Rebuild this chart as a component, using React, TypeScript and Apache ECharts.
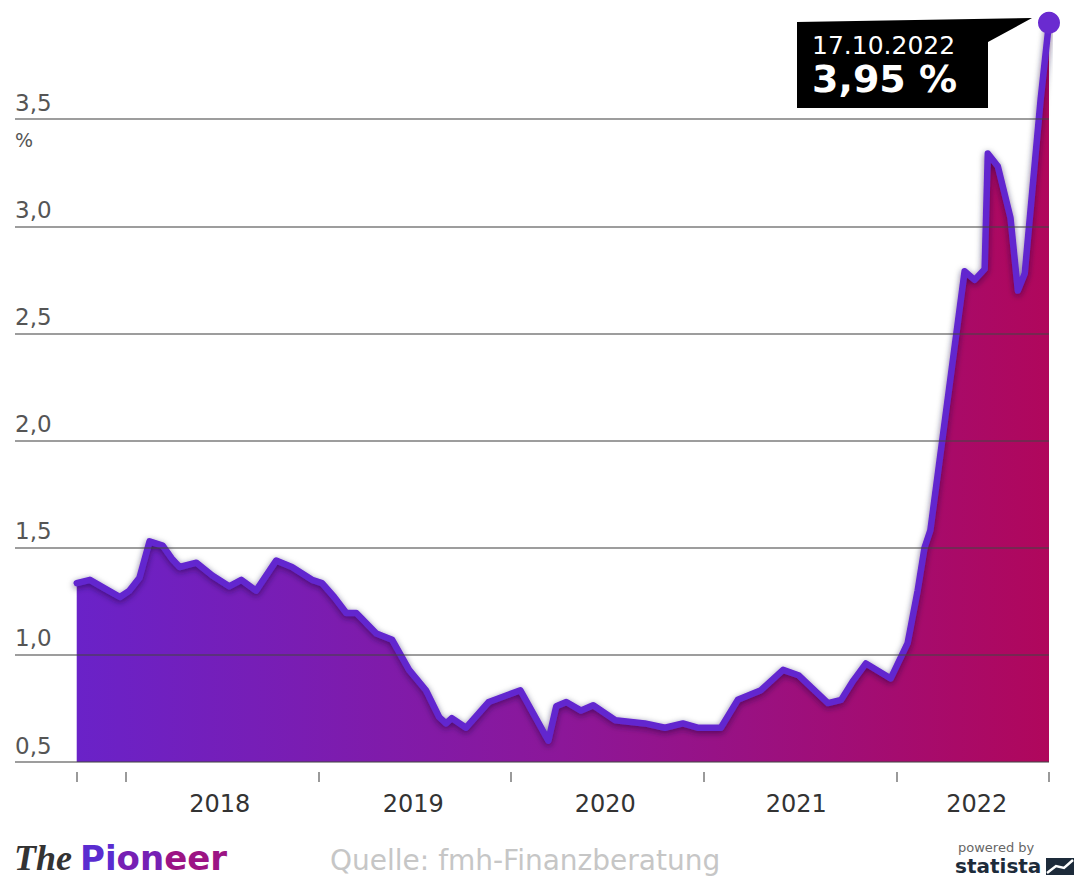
import React, { useEffect, useRef } from "react";
import * as echarts from "echarts";

// Bauzins 10 Jahre (fmh)
const dates: string[] = [
  "2017-09-30", "2017-10-25", "2017-11-22", "2017-12-21", "2018-01-08", "2018-01-27",
  "2018-02-15", "2018-03-12", "2018-03-29", "2018-04-13", "2018-05-15", "2018-06-14",
  "2018-07-16", "2018-08-08", "2018-09-05", "2018-10-13", "2018-11-12", "2018-12-20",
  "2019-01-08", "2019-01-31", "2019-02-23", "2019-03-14", "2019-04-21", "2019-05-21",
  "2019-06-22", "2019-07-24", "2019-08-18", "2019-08-31", "2019-09-11", "2019-10-08",
  "2019-11-20", "2020-01-19", "2020-03-12", "2020-03-27", "2020-04-15", "2020-05-13",
  "2020-06-05", "2020-07-17", "2020-09-11", "2020-10-19", "2020-11-22", "2020-12-20",
  "2021-02-02", "2021-03-06", "2021-04-19", "2021-05-31", "2021-06-29", "2021-08-24",
  "2021-09-18", "2021-10-11", "2021-11-04", "2021-12-21", "2022-01-22", "2022-02-10",
  "2022-02-23", "2022-03-06", "2022-05-10", "2022-05-29", "2022-06-17", "2022-06-23",
  "2022-07-12", "2022-08-05", "2022-08-19", "2022-09-01", "2022-10-01", "2022-10-17",
];
const rates: number[] = [
  1.335, 1.35, 1.31, 1.27, 1.30, 1.36,
  1.53, 1.51, 1.45, 1.41, 1.43, 1.37,
  1.32, 1.35, 1.30, 1.44, 1.41, 1.35,
  1.335, 1.27, 1.195, 1.195, 1.10, 1.07,
  0.93, 0.835, 0.71, 0.68, 0.705, 0.66,
  0.78, 0.835, 0.60, 0.76, 0.78, 0.74,
  0.765, 0.695, 0.68, 0.66, 0.68, 0.66,
  0.66, 0.79, 0.835, 0.93, 0.905, 0.775,
  0.79, 0.88, 0.96, 0.89, 1.055, 1.30,
  1.50, 1.58, 2.79, 2.75, 2.80, 3.34,
  3.28, 3.04, 2.70, 2.78, 3.59, 3.95,
];

const xStart = "2017-06-05";
const xEnd = "2022-10-17";
const yearTickDates: string[] = [
  "2017-09-30", "2018-01-01", "2019-01-01", "2020-01-01", "2021-01-01", "2022-01-01", "2022-10-17",
];
const yearLabelDates: string[] = ["2018-06-28", "2019-06-30", "2020-06-28", "2021-06-25", "2022-06-02"];
const gridValues: number[] = [0.5, 1.0, 1.5, 2.0, 2.5, 3.0, 3.5];
const calloutDate = "17.10.2022";
const calloutValue = "3,95 %";
const unitLabel = "%";
const sourceText = "Quelle: fmh-Finanzberatung";

const FONT = "'DejaVu Sans', 'Open Sans', sans-serif";
const t = (d: string) => Date.parse(d);

export default function App() {
  const ref = useRef<HTMLDivElement>(null);

  useEffect(() => {
    if (!ref.current) return;
    const chart = echarts.init(ref.current, null, { renderer: "svg" });
    const data = dates.map((d, i) => [t(d), rates[i]]);

    chart.setOption({
      animation: false,
      backgroundColor: "#ffffff",
      grid: { left: 15, right: 31, top: 12, bottom: 115, containLabel: false },
      xAxis: {
        type: "value",
        min: t(xStart),
        max: t(xEnd),
        offset: 10,
        axisLine: { show: false },
        splitLine: { show: false },
        axisTick: {
          show: true,
          customValues: yearTickDates.map(t),
          length: 10,
          lineStyle: { color: "#9a9a9a", width: 2 },
        },
        axisLabel: {
          customValues: yearLabelDates.map(t),
          formatter: (v: number) => String(new Date(v).getUTCFullYear()),
          fontSize: 24,
          color: "#333333",
          margin: 20,
          fontFamily: FONT,
        },
      },
      yAxis: {
        type: "value",
        min: 0.5,
        max: 4,
        interval: 0.5,
        axisLine: { show: false },
        axisTick: { show: false },
        splitLine: { show: false },
        axisLabel: {
          inside: true,
          margin: 0,
          verticalAlign: "bottom",
          padding: [0, 0, 5, 0],
          fontSize: 23,
          color: "#555555",
          fontFamily: FONT,
          formatter: (v: number) => (v > 3.6 ? "" : v.toFixed(1).replace(".", ",")),
        },
      },
      series: [
        {
          type: "line",
          data,
          symbol: "none",
          smooth: false,
          lineStyle: {
            color: "#6228cf",
            width: 6.5,
            join: "round",
            cap: "round",
            shadowColor: "rgba(30,0,60,0.6)",
            shadowBlur: 6,
            shadowOffsetY: 2,
          },
          areaStyle: {
            origin: "start",
            opacity: 1,
            color: new echarts.graphic.LinearGradient(0, 0, 1, 0, [
              { offset: 0, color: "#6a22c8" },
              { offset: 0.5, color: "#8c1799" },
              { offset: 1, color: "#b0075c" },
            ]),
          },
          markLine: {
            silent: true,
            symbol: ["none", "none"],
            label: { show: false },
            lineStyle: { color: "rgba(70,70,70,0.7)", width: 1.5, type: "solid" },
            data: gridValues.map((v) => ({ yAxis: v })),
          },
          markPoint: {
            symbol: "circle",
            symbolSize: 22,
            itemStyle: { color: "#6a2bd0" },
            label: { show: false },
            data: [{ coord: [t(dates[dates.length - 1]), rates[rates.length - 1]] }],
          },
        },
      ],
      graphic: [
        {
          type: "polygon",
          shape: { points: [[797, 22], [1032, 18], [988, 42], [988, 108], [797, 108]] },
          style: { fill: "#000000" },
        },
        {
          type: "text",
          x: 812,
          y: 45,
          style: { text: calloutDate, fill: "#ffffff", fontSize: 25, fontFamily: FONT, verticalAlign: "middle" },
        },
        {
          type: "text",
          x: 812,
          y: 79,
          style: { text: calloutValue, fill: "#ffffff", fontSize: 38, fontFamily: FONT, fontWeight: "bold", verticalAlign: "middle" },
        },
        {
          type: "text",
          x: 15,
          y: 140,
          style: { text: unitLabel, fill: "#555555", fontSize: 19, fontFamily: FONT, verticalAlign: "middle" },
        },
        {
          type: "text",
          x: 14,
          y: 858,
          style: {
            text: "The",
            fontFamily: "'Liberation Serif', serif",
            fontStyle: "italic",
            fontWeight: "bold",
            fontSize: 36,
            lineHeight: 36,
            fill: "#333333",
            verticalAlign: "middle",
          },
        },
        {
          type: "text",
          x: 80,
          y: 858,
          style: {
            text: "{b|Pi}{c|on}{d|eer}",
            verticalAlign: "middle",
            rich: {
              b: { fontFamily: FONT, fontWeight: "bold", fontSize: 34, lineHeight: 34, fill: "#5a2cd0" },
              c: { fontFamily: FONT, fontWeight: "bold", fontSize: 34, lineHeight: 34, fill: "#7620b4" },
              d: { fontFamily: FONT, fontWeight: "bold", fontSize: 34, lineHeight: 34, fill: "#9c1484" },
            },
          },
        },
        {
          type: "text",
          x: 330,
          y: 860,
          style: { text: sourceText, fill: "#c6c6c6", fontSize: 28, lineHeight: 28, fontFamily: FONT, verticalAlign: "middle" },
        },
        {
          type: "text",
          x: 958,
          y: 847,
          style: { text: "powered by", fill: "#666666", fontSize: 13, fontFamily: FONT, verticalAlign: "middle" },
        },
        {
          type: "text",
          x: 955,
          y: 866,
          style: { text: "statista", fill: "#1d2b3a", fontSize: 20, fontWeight: "bold", fontFamily: FONT, verticalAlign: "middle" },
        },
        {
          type: "rect",
          shape: { x: 1046, y: 858, width: 28, height: 17 },
          style: { fill: "#1d2b3a" },
        },
        {
          type: "polyline",
          shape: { points: [[1047, 873], [1056, 866], [1064, 868], [1073, 860]] },
          style: { stroke: "#ffffff", lineWidth: 2.5, fill: "none" },
        },
      ],
    });

    return () => chart.dispose();
  }, []);

  return (
    <div
      ref={ref}
      style={{ position: "fixed", left: 0, top: 0, width: 1080, height: 877, background: "#fff" }}
    />
  );
}
